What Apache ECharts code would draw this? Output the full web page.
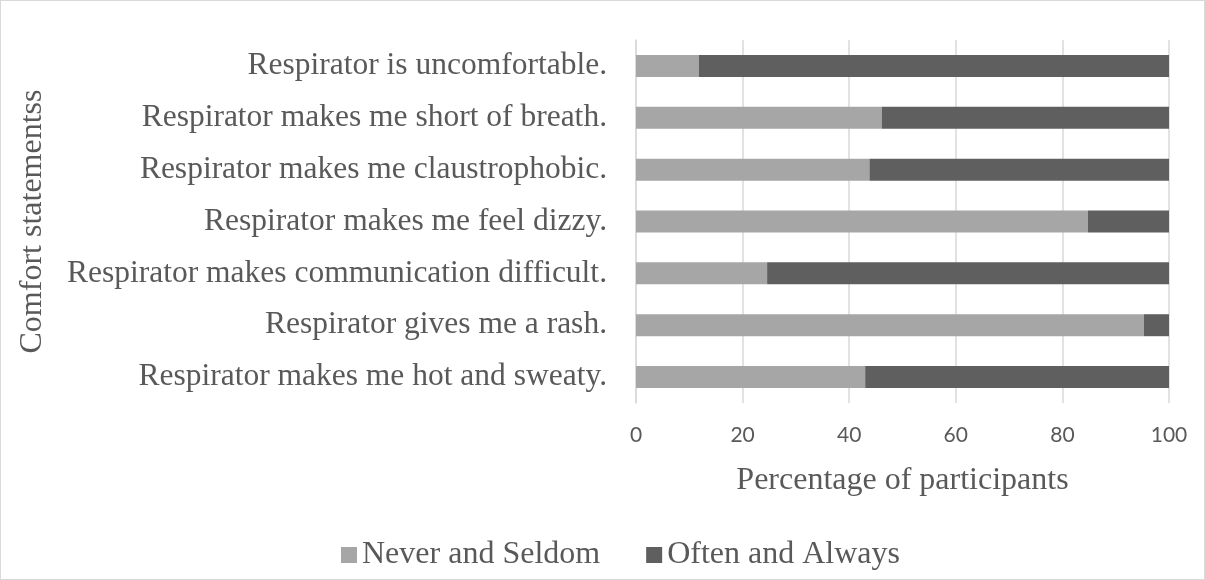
<!DOCTYPE html>
<html><head><meta charset="utf-8">
<script src="https://cdn.jsdelivr.net/npm/echarts@6/dist/echarts.min.js"></script>
<style>
html,body{margin:0;padding:0;background:#fff;}
#c{width:1203px;height:578px;border:1px solid #d9d9d9;}
</style></head><body>
<div id="c"></div>
<script>
const categories = [
  "Respirator is uncomfortable.",
  "Respirator makes me short of breath.",
  "Respirator makes me claustrophobic.",
  "Respirator makes me feel dizzy.",
  "Respirator makes communication difficult.",
  "Respirator gives me a rash.",
  "Respirator makes me hot and sweaty."
];
const neverSeldom = [11.8, 46.1, 43.8, 84.8, 24.6, 95.3, 43.0];
const oftenAlways = [88.2, 53.9, 56.2, 15.2, 75.4, 4.7, 57.0];
const xTicks = [0, 20, 40, 60, 80, 100];

const chart = echarts.init(document.getElementById('c'), null, {renderer:'canvas'});
const serif = '"Liberation Serif","Times New Roman",serif';
chart.setOption({
  animation:false,
  grid:{left:635, right:35, top:39, bottom:176},
  legend:{
    top:533, left:335, itemWidth:16, itemHeight:16, itemGap:46,
    icon:'rect',
    textStyle:{fontFamily:serif, fontSize:32, color:'#595959'},
    data:['Never and Seldom','Often and Always']
  },
  xAxis:{
    type:'value', min:xTicks[0], max:xTicks[xTicks.length-1], interval:20,
    axisLine:{show:false}, axisTick:{show:false},
    splitLine:{lineStyle:{color:'#d9d9d9', width:1.5}},
    axisLabel:{fontFamily:'Lato, "Open Sans", sans-serif', fontSize:21, color:'#595959', margin:22},
    name:'Percentage of participants', nameLocation:'middle', nameGap:62,
    nameTextStyle:{fontFamily:serif, fontSize:32, color:'#595959'}
  },
  yAxis:{
    type:'category', inverse:true, data:categories,
    axisLine:{lineStyle:{color:'#d9d9d9', width:1.5}},
    axisTick:{length:9, lineStyle:{color:'#d9d9d9', width:1.5}},
    axisLabel:{fontFamily:serif, fontSize:31.5, color:'#595959', margin:29},
    name:'Comfort statementss', nameLocation:'middle', nameGap:587, nameRotate:90,
    nameTextStyle:{fontFamily:serif, fontSize:32, color:'#595959'}
  },
  series:[
    {name:'Never and Seldom', type:'bar', stack:'a', data:neverSeldom, barWidth:22,
     itemStyle:{color:'#a6a6a6'}},
    {name:'Often and Always', type:'bar', stack:'a', data:oftenAlways, barWidth:22,
     itemStyle:{color:'#5f5f5f'}}
  ]
});
</script></body></html>
